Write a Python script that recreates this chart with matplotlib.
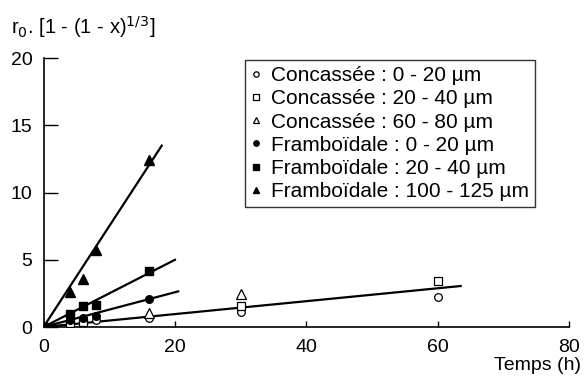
import matplotlib
matplotlib.use("Agg")
import matplotlib.pyplot as plt
import numpy as np

plt.rcParams['font.family'] = ['Liberation Sans', 'DejaVu Sans']

# Data (time h, r0.[1-(1-x)^1/3])
conc_0_20_t = [8, 16, 30, 60]
conc_0_20_y = [0.5, 0.7, 1.15, 2.25]
conc_20_40_t = [4, 6, 30, 60]
conc_20_40_y = [0.3, 0.4, 1.55, 3.45]
conc_60_80_t = [16, 30]
conc_60_80_y = [1.05, 2.45]
fram_0_20_t = [0, 4, 6, 8, 16]
fram_0_20_y = [0, 0.5, 0.7, 0.85, 2.1]
fram_20_40_t = [0, 4, 6, 8, 16]
fram_20_40_y = [0, 1.0, 1.6, 1.65, 4.2]
fram_100_125_t = [0, 4, 6, 8, 16]
fram_100_125_y = [0, 2.6, 3.6, 5.75, 12.4]

# Fitted lines (start, end)
line_conc_x = [0, 63.5]
line_conc_y = [0, 3.05]
line_f020_x = [0, 20.5]
line_f020_y = [0, 2.65]
line_f2040_x = [0, 20]
line_f2040_y = [0, 5.0]
line_f100_x = [0, 18]
line_f100_y = [0, 13.5]

labels = ["Concassée : 0 - 20 µm", "Concassée : 20 - 40 µm", "Concassée : 60 - 80 µm",
          "Framboïdale : 0 - 20 µm", "Framboïdale : 20 - 40 µm", "Framboïdale : 100 - 125 µm"]

fig = plt.figure(figsize=(5.84, 3.78), dpi=100)
ax = fig.add_axes([43.5 / 584, 1 - 327 / 378, (569 - 43.5) / 584, (327 - 58.3) / 378])

for lx, ly in [(line_conc_x, line_conc_y), (line_f020_x, line_f020_y),
               (line_f2040_x, line_f2040_y), (line_f100_x, line_f100_y)]:
    ax.plot(lx, ly, color='black', lw=1.6, zorder=2)

ms = 5.5
ax.plot(conc_0_20_t, conc_0_20_y, 'o', mfc='white', mec='black', ms=ms, mew=0.9, label=labels[0], zorder=3)
ax.plot(conc_20_40_t, conc_20_40_y, 's', mfc='white', mec='black', ms=ms, mew=0.9, label=labels[1], zorder=3)
ax.plot(conc_60_80_t, conc_60_80_y, '^', mfc='white', mec='black', ms=ms + 1, mew=0.9, label=labels[2], zorder=3)
ax.plot(fram_0_20_t, fram_0_20_y, 'o', color='black', ms=ms, label=labels[3], zorder=3)
ax.plot(fram_20_40_t, fram_20_40_y, 's', color='black', ms=ms, label=labels[4], zorder=3)
ax.plot(fram_100_125_t, fram_100_125_y, '^', color='black', ms=ms + 1, label=labels[5], zorder=3)

ax.set_xlim(0, 80)
ax.set_ylim(0, 20)
ax.set_xticks([0, 20, 40, 60, 80])
ax.set_yticks([0, 5, 10, 15, 20])
ax.spines['top'].set_visible(False)
ax.spines['right'].set_visible(False)
ax.tick_params(axis='y', direction='in', length=10, width=1, labelsize=14, pad=8)
ax.tick_params(axis='x', direction='in', length=4.5, width=1, labelsize=14, pad=9)
for s in ['left', 'bottom']:
    ax.spines[s].set_linewidth(1.2)

fig.text(11 / 584, 1 - 34 / 378, r"r$_0$. [1 - (1 - x)$^{1/3}$]",
         ha='left', va='baseline', fontsize=14.5)
fig.text(581 / 584, 1 - 357 / 378, "Temps (h)", ha='right', va='top', fontsize=14)

leg = ax.legend(loc='upper left', bbox_to_anchor=((245 - 43.5) / (569 - 43.5), 1 - (60 - 58.3) / (327 - 58.3)),
                fontsize=15, frameon=True,
                fancybox=False, edgecolor='black', handlelength=0.5, handletextpad=0.45,
                labelspacing=0.2, borderpad=0.3, borderaxespad=0, markerscale=0.7)
leg.get_frame().set_linewidth(1.0)

fig.savefig("out.png", dpi=100)
